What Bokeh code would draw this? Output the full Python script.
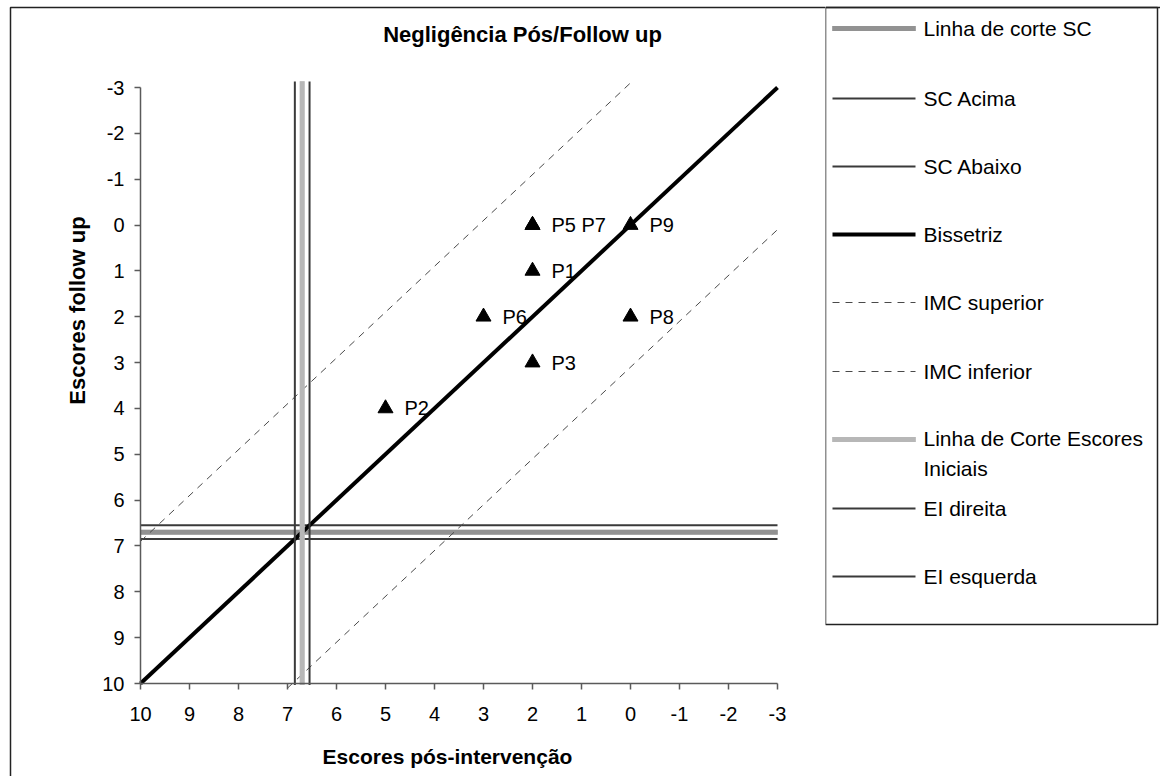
from bokeh.plotting import figure
from bokeh.layouts import row
from bokeh.models import Range1d, LinearAxis, FixedTicker
from bokeh.core.properties import value
from bokeh.embed import file_html
from bokeh.resources import INLINE

# ---- data -------------------------------------------------------------
patients = ["P1", "P2", "P3", "P5", "P6", "P7", "P8", "P9"]
post_scores = [2, 5, 2, 2, 3, 2, 0, 0]          # Escores pós-intervenção
followup_scores = [1, 4, 3, 0, 2, 0, 2, 0]      # Escores follow up

axis_ticks = list(range(-3, 11))
tick_labels = [str(t) for t in axis_ticks]

# reference lines
bisector_x = [10, -3]
bisector_y = [10, -3]
imc_sup_x = [10, 0]
imc_sup_y = [6.9, -3.1]
imc_inf_x = [7, -3]
imc_inf_y = [10.1, 0.1]

sc_cut, sc_above, sc_below = 6.7, 6.55, 6.85     # horizontal cut-off (follow up)
ei_cut, ei_right, ei_left = 6.7, 6.55, 6.85      # vertical cut-off (initial scores)
h_span = [10, -3]
v_span = [-3.13, 10.03]

FONT = "Liberation Sans"

# ---- page layout (pixels) ---------------------------------------------
W_MAIN, W_LEG, H = 825, 335, 776
AX_L, AX_R = 140, 777      # screen x of x=10 and x=-3
AX_T, AX_B = 87, 683       # screen y of y=-3 and y=10
XS = (AX_R - AX_L) / 13.0
YS = (AX_B - AX_T) / 13.0


def dx(px):
    return 10 - (px - AX_L) / XS


def dy(py):
    return -3 + (py - AX_T) / YS


NO_BORDER = dict(min_border_left=0, min_border_right=0,
                 min_border_top=0, min_border_bottom=0)

p = figure(width=W_MAIN, height=H,
           x_range=Range1d(dx(0), dx(W_MAIN)),
           y_range=Range1d(dy(H), dy(0)),
           x_axis_type=None, y_axis_type=None,
           output_backend="svg", toolbar_location=None, **NO_BORDER)
p.outline_line_color = None
p.background_fill_color = "white"
p.border_fill_color = "white"

axis_style = dict(
    bounds=(-3, 10),
    ticker=FixedTicker(ticks=axis_ticks),
    major_label_overrides=dict(zip(axis_ticks, tick_labels)),
    axis_line_color="#5a5a5a", axis_line_width=1.5,
    major_tick_line_color="#5a5a5a", major_tick_line_width=1.5,
    major_tick_out=6, major_tick_in=0,
    minor_tick_line_color=None,
    major_label_text_font=FONT, major_label_text_font_size="20px",
    major_label_text_color="black",
)
xaxis = LinearAxis(fixed_location=10, major_label_standoff=17, **axis_style)
yaxis = LinearAxis(fixed_location=10, major_label_standoff=10, **axis_style)
p.add_layout(xaxis, "below")
p.add_layout(yaxis, "left")


def hatched(fig, xs, ys, base, pattern, width):
    fig.line(xs, ys, line_color=base, line_width=width)
    fig.line(xs, ys, line_color=pattern, line_width=width, line_dash="1 1")


SOLID = "#3a3a3a"
DASH = "#4a4a4a"

# horizontal cut-off band
hatched(p, h_span, [sc_cut, sc_cut], "#b4b4b4", "#707070", 5)
p.line(h_span, [sc_above, sc_above], line_color=SOLID, line_width=2)
p.line(h_span, [sc_below, sc_below], line_color=SOLID, line_width=2)

# bisector and reliable-change limits
p.line(bisector_x, bisector_y, line_color="black", line_width=4)
p.line(imc_sup_x, imc_sup_y, line_color=DASH, line_width=1, line_dash="7 6")
p.line(imc_inf_x, imc_inf_y, line_color=DASH, line_width=1, line_dash="7 6")

# vertical cut-off band
hatched(p, [ei_cut, ei_cut], v_span, "#d4d4d4", "#9a9a9a", 5)
p.line([ei_right, ei_right], v_span, line_color=SOLID, line_width=2)
p.line([ei_left, ei_left], v_span, line_color=SOLID, line_width=2)

# patients
p.scatter(post_scores, followup_scores, marker="triangle", size=15,
          fill_color="black", line_color="black")

groups = {}
for name, xv, yv in zip(patients, post_scores, followup_scores):
    groups.setdefault((xv, yv), []).append(name)
p.text(x=[k[0] for k in groups], y=[k[1] for k in groups],
       text=[" ".join(v) for v in groups.values()],
       x_offset=19, text_baseline="middle", text_align="left",
       text_font=value(FONT), text_font_size="20px", text_color="black")

# titles
p.text(x=[dx(522)], y=[dy(34)], text=["Negligência Pós/Follow up"],
       text_align="center", text_baseline="middle",
       text_font=value(FONT), text_font_size="22px", text_font_style="bold")
p.text(x=[dx(447)], y=[dy(756)], text=["Escores pós-intervenção"],
       text_align="center", text_baseline="middle",
       text_font=value(FONT), text_font_size="21px", text_font_style="bold")
p.text(x=[dx(77)], y=[dy(310)], text=["Escores follow up"], angle=1.5708,
       text_align="center", text_baseline="middle",
       text_font=value(FONT), text_font_size="22px", text_font_style="bold")

# chart border (left and top edges)
p.line([dx(10), dx(10), dx(W_MAIN)], [dy(H + 5), dy(7), dy(7)],
       line_color="#222222", line_width=1.5)

# ---- legend panel (drawn in its own pixel space) ----------------------
leg = figure(width=W_LEG, height=H,
             x_range=Range1d(0, W_LEG), y_range=Range1d(H, 0),
             x_axis_type=None, y_axis_type=None,
             output_backend="svg", toolbar_location=None, **NO_BORDER)
leg.outline_line_color = None
leg.background_fill_color = "white"
leg.border_fill_color = "white"

BOX = dict(left=0, right=332, top=7, bottom=624)
leg.line([W_LEG, 0], [BOX["top"], BOX["top"]], line_color="#222222", line_width=1.5)
leg.quad(left=[BOX["left"]], right=[BOX["right"]], top=[BOX["top"]],
         bottom=[BOX["bottom"]], fill_color=None,
         line_color="#222222", line_width=1.5)

legend_names = ["Linha de corte SC", "SC Acima", "SC Abaixo", "Bissetriz",
                "IMC superior", "IMC inferior",
                "Linha de Corte Escores\nIniciais", "EI direita", "EI esquerda"]
legend_rows = [28, 98, 166, 234, 302, 371, 439, 508, 576]
SX = [7, 90]
LINE_PX = 28

for name, ry in zip(legend_names, legend_rows):
    yy = [ry, ry]
    if name == "Linha de corte SC":
        hatched(leg, SX, yy, "#b4b4b4", "#707070", 5)
    elif name.startswith("Linha de Corte"):
        hatched(leg, SX, yy, "#d4d4d4", "#9a9a9a", 5)
    elif name == "Bissetriz":
        leg.line(SX, yy, line_color="black", line_width=4)
    elif name.startswith("IMC"):
        leg.line(SX, yy, line_color=DASH, line_width=1, line_dash="7 6")
    else:
        leg.line(SX, yy, line_color=SOLID, line_width=2)
    n_lines = name.count("\n") + 1
    leg.text(x=[98], y=[ry + (n_lines - 1) * LINE_PX / 2], text=[name],
             text_align="left", text_baseline="middle",
             text_line_height=LINE_PX / 21,
             text_font=value(FONT), text_font_size="21px", text_color="black")

layout = row(p, leg)
open("out.html", "w").write(file_html(layout, INLINE))
